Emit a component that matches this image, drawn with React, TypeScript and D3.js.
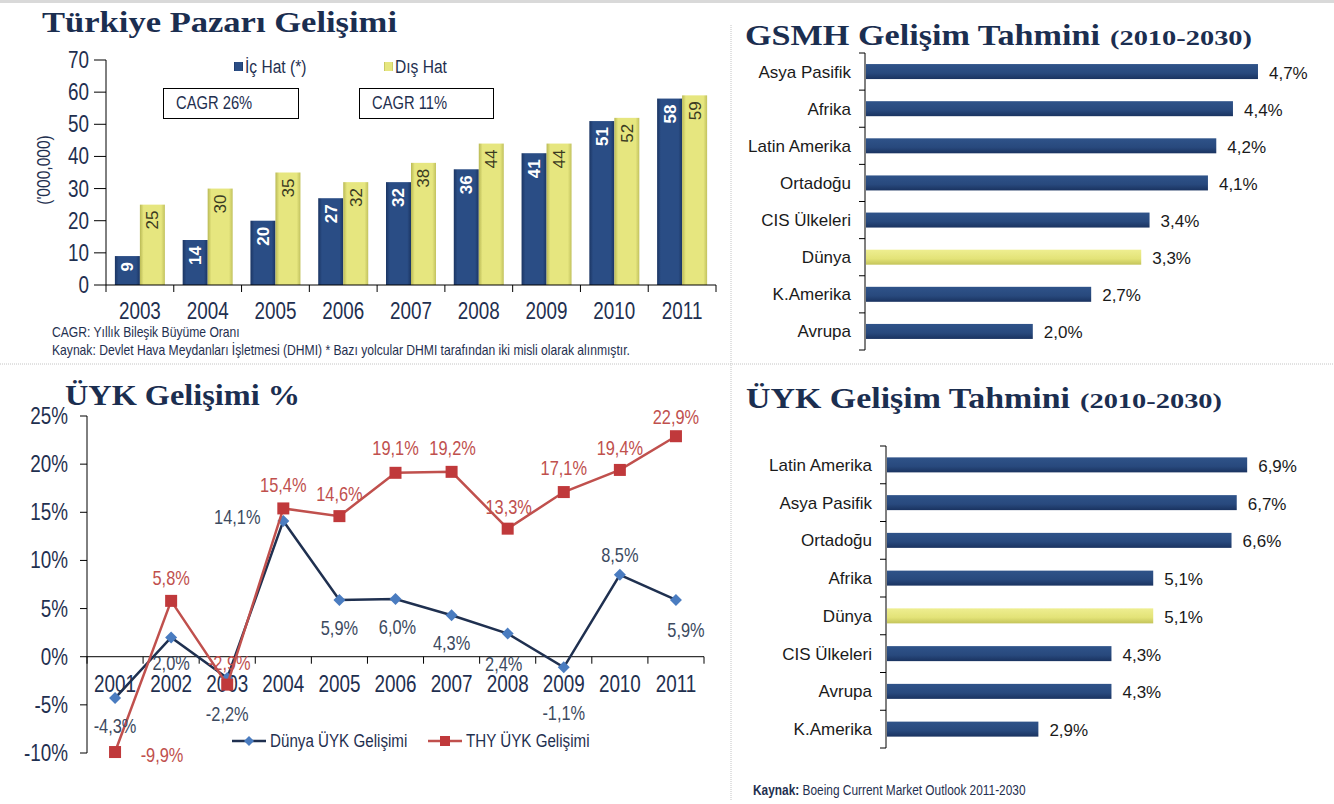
import React from "react";
import * as d3 from "d3";

// ---------- DATA ----------
const marketYears = ["2003", "2004", "2005", "2006", "2007", "2008", "2009", "2010", "2011"];
const icHat = [9, 14, 20, 27, 32, 36, 41, 51, 58];
const disHat = [25, 30, 35, 32, 38, 44, 44, 52, 59];
const marketTicks = [0, 10, 20, 30, 40, 50, 60, 70];

const gsmhRegions = ["Asya Pasifik", "Afrika", "Latin Amerika", "Ortadoğu", "CIS Ülkeleri", "Dünya", "K.Amerika", "Avrupa"];
const gsmhValues = [4.7, 4.4, 4.2, 4.1, 3.4, 3.3, 2.7, 2.0];

const uykRegions = ["Latin Amerika", "Asya Pasifik", "Ortadoğu", "Afrika", "Dünya", "CIS Ülkeleri", "Avrupa", "K.Amerika"];
const uykValues = [6.9, 6.7, 6.6, 5.1, 5.1, 4.3, 4.3, 2.9];

const lineYears = ["2001", "2002", "2003", "2004", "2005", "2006", "2007", "2008", "2009", "2010", "2011"];
const dunyaUyk = [-4.3, 2.0, -2.2, 14.1, 5.9, 6.0, 4.3, 2.4, -1.1, 8.5, 5.9];
const thyUyk = [-9.9, 5.8, -2.9, 15.4, 14.6, 19.1, 19.2, 13.3, 17.1, 19.4, 22.9];
const lineTicks = [-10, -5, 0, 5, 10, 15, 20, 25];

// label placement offsets (layout only)
const dunyaLabelOffset: [number, number][] = [
  [0, 28], [0, 26], [0, 36], [-46, -4], [0, 28], [2, 28], [0, 28], [-4, 30], [0, 46], [0, -20], [10, 30],
];
const thyLabelOffset: [number, number][] = [
  [47, 3], [0, -23], [2, -22], [0, -23], [0, -22], [0, -25], [1, -24], [1, -22], [0, -24], [0, -22], [0, -19],
];

// ---------- STYLE ----------
const SANS = "'Liberation Sans', Arial, sans-serif";
const SERIF = "'Liberation Serif', 'DejaVu Serif', serif";
const TITLE = "#1b2e50";
const TXT = "#1f3050";
const RED = "#c0504d";
const DUNYA_LINE = "#1f3050";
const DUNYA_MARK = "#4a7cc0";
const SX = 0.82; // narrow (condensed) text

const fmt = (v: number) => v.toFixed(1).replace(".", ",") + "%";

// condensed text: scaled horizontally about its anchor
function NText(props: any) {
  const { x, y, rot, sx = SX, children, ...rest } = props;
  const t = `translate(${x},${y})${rot ? ` rotate(${rot})` : ""} scale(${sx},1)`;
  return (
    <text transform={t} fontFamily={SANS} {...rest}>
      {children}
    </text>
  );
}

function Defs() {
  return (
    <defs>
      <linearGradient id="colNavy" x1="0" x2="1" y1="0" y2="0">
        <stop offset="0" stopColor="#1b3563" />
        <stop offset="0.15" stopColor="#2a4d85" />
        <stop offset="0.85" stopColor="#2a4d85" />
        <stop offset="1" stopColor="#1b3563" />
      </linearGradient>
      <linearGradient id="colYellow" x1="0" x2="1" y1="0" y2="0">
        <stop offset="0" stopColor="#b9b955" />
        <stop offset="0.15" stopColor="#e6e67f" />
        <stop offset="0.85" stopColor="#e6e67f" />
        <stop offset="1" stopColor="#c2c25e" />
      </linearGradient>
      <linearGradient id="barNavy" x1="0" x2="0" y1="0" y2="1">
        <stop offset="0" stopColor="#2f5389" />
        <stop offset="0.6" stopColor="#28497d" />
        <stop offset="1" stopColor="#1a3360" />
      </linearGradient>
      <linearGradient id="barYellow" x1="0" x2="0" y1="0" y2="1">
        <stop offset="0" stopColor="#eeee90" />
        <stop offset="0.6" stopColor="#e3e378" />
        <stop offset="1" stopColor="#c4c45a" />
      </linearGradient>
    </defs>
  );
}

function MarketChart() {
  const x0 = 106, x1 = 716, yTop = 60, yBot = 285;
  const x = d3.scaleBand<string>().domain(marketYears).range([x0, x1]);
  const y = d3.scaleLinear().domain([0, 70]).range([yBot, yTop]);
  const bw = 25;
  return (
    <g>
      <text x={42} y={32} fontFamily={SERIF} fontWeight="bold" fontSize={29} fill={TITLE} textLength={355} lengthAdjust="spacingAndGlyphs">
        Türkiye Pazarı Gelişimi
      </text>
      {/* y axis */}
      <line x1={x0} x2={x0} y1={yTop} y2={yBot} stroke="#000" strokeWidth={1} />
      {marketTicks.map((t) => (
        <g key={t}>
          <line x1={x0 - 12} x2={x0} y1={y(t)} y2={y(t)} stroke="#000" />
          <NText x={89} y={y(t)} dy="0.35em" textAnchor="end" fontSize={23} fill={TXT}>
            {t}
          </NText>
        </g>
      ))}
      <NText x={50} y={170} rot={-90} textAnchor="middle" fontSize={19} fill={TXT}>
        ('000,000)
      </NText>
      {/* bars */}
      {marketYears.map((yr, i) => {
        const cx = x(yr)! + x.bandwidth() / 2;
        const a = icHat[i], b = disHat[i];
        return (
          <g key={yr}>
            <rect x={cx - bw} y={y(a)} width={bw} height={yBot - y(a)} fill="url(#colNavy)" />
            <rect x={cx} y={y(b)} width={bw} height={yBot - y(b)} fill="url(#colYellow)" />
            <text transform={`translate(${cx - bw / 2},${Math.min(y(a) + 6, yBot - 22)}) rotate(-90)`} textAnchor="end" dy="0.35em" fontFamily={SANS} fontSize={17} fontWeight="bold" fill="#fff">
              {a}
            </text>
            <text transform={`translate(${cx + bw / 2},${y(b) + 6}) rotate(-90)`} textAnchor="end" dy="0.35em" fontFamily={SANS} fontSize={17} fill="#3b3b22">
              {b}
            </text>
          </g>
        );
      })}
      {/* x axis */}
      <line x1={x0} x2={x1} y1={yBot} y2={yBot} stroke="#000" />
      {marketYears.map((yr) => (
        <line key={"t" + yr} x1={x(yr)!} x2={x(yr)!} y1={yBot} y2={yBot + 7} stroke="#000" />
      ))}
      <line x1={x1} x2={x1} y1={yBot} y2={yBot + 7} stroke="#000" />
      {marketYears.map((yr) => (
        <NText key={"l" + yr} x={x(yr)! + x.bandwidth() / 2} y={319} textAnchor="middle" fontSize={23} fill={TXT}>
          {yr}
        </NText>
      ))}
      {/* legend */}
      <rect x={234} y={62} width={9} height={9} fill="url(#colNavy)" />
      <NText x={245} y={73} fontSize={19} fill={TXT}>İç Hat (*)</NText>
      <rect x={384} y={62} width={9} height={9} fill="url(#colYellow)" />
      <NText x={395} y={73} fontSize={19} fill={TXT}>Dış Hat</NText>
      {/* CAGR boxes */}
      <rect x={163.5} y={88.5} width={135} height={30} fill="#fff" stroke="#000" />
      <NText x={176} y={109} fontSize={18} fill={TXT}>CAGR 26%</NText>
      <rect x={359.5} y={88.5} width={134} height={30} fill="#fff" stroke="#000" />
      <NText x={372} y={109} fontSize={18} fill={TXT}>CAGR 11%</NText>
      {/* footnotes */}
      <NText x={52} y={337} fontSize={14.8} fill={TXT}>CAGR: Yıllık Bileşik Büyüme Oranı</NText>
      <NText x={52} y={355} fontSize={14.8} fill={TXT}>
        Kaynak:  Devlet Hava Meydanları İşletmesi (DHMI) * Bazı yolcular DHMI tarafından iki misli olarak alınmıştır.
      </NText>
    </g>
  );
}

function HBarChart(props: {
  regions: string[]; values: number[]; axisX: number; yTop: number; yBot: number; pxPerUnit: number;
  title: string; titleX: number; titleY: number; titleLen: number; subX: number; subLen: number;
}) {
  const { regions, values, axisX, yTop, yBot, pxPerUnit } = props;
  const y = d3.scaleBand<string>().domain(regions).range([yTop, yBot]);
  const x = d3.scaleLinear().domain([0, 1]).range([axisX, axisX + pxPerUnit]);
  const bh = 15;
  return (
    <g>
      <text x={props.titleX} y={props.titleY} fontFamily={SERIF} fontWeight="bold" fontSize={29} fill={TITLE} textLength={props.titleLen} lengthAdjust="spacingAndGlyphs">
        {props.title}
      </text>
      <text x={props.subX} y={props.titleY} fontFamily={SERIF} fontWeight="bold" fontSize={22} fill={TITLE} textLength={props.subLen} lengthAdjust="spacingAndGlyphs">
        (2010-2030)
      </text>
      <line x1={axisX} x2={axisX} y1={yTop} y2={yBot} stroke="#000" />
      {regions.map((r) => (
        <line key={"t" + r} x1={axisX - 6} x2={axisX} y1={y(r)!} y2={y(r)!} stroke="#000" />
      ))}
      <line x1={axisX - 6} x2={axisX} y1={yBot} y2={yBot} stroke="#000" />
      {regions.map((r, i) => {
        const cy = y(r)! + y.bandwidth() / 2;
        const isWorld = r === "Dünya";
        return (
          <g key={r}>
            <rect x={axisX + 1} y={cy - bh / 2} width={x(values[i]) - axisX} height={bh} fill={isWorld ? "url(#barYellow)" : "url(#barNavy)"} />
            <text x={axisX - 14} y={cy} dy="0.35em" textAnchor="end" fontFamily={SANS} fontSize={17} fill="#1a1a1a">
              {r}
            </text>
            <text x={x(values[i]) + 12} y={cy + 1} dy="0.35em" fontFamily={SANS} fontSize={17} fill="#1a1a1a">
              {fmt(values[i])}
            </text>
          </g>
        );
      })}
    </g>
  );
}

function LineChart() {
  const x0 = 87, x1 = 704;
  const x = d3.scaleBand<string>().domain(lineYears).range([x0, x1]);
  const y = d3.scaleLinear().domain([-10, 25]).range([753, 416]);
  const cx = (yr: string) => x(yr)! + x.bandwidth() / 2;
  const line = d3.line<number>().x((_, i) => cx(lineYears[i])).y((v) => y(v));
  const diamond = (px: number, py: number, r = 6) => `M${px},${py - r}L${px + r},${py}L${px},${py + r}L${px - r},${py}Z`;
  return (
    <g>
      <text x={65} y={405} fontFamily={SERIF} fontWeight="bold" fontSize={29} fill={TITLE} textLength={235} lengthAdjust="spacingAndGlyphs">
        ÜYK Gelişimi %
      </text>
      <line x1={x0} x2={x0} y1={y(25)} y2={y(-10)} stroke="#000" />
      {lineTicks.map((t) => (
        <g key={t}>
          <line x1={x0 - 7} x2={x0} y1={y(t)} y2={y(t)} stroke="#000" />
          <NText x={68} y={y(t)} dy="0.35em" textAnchor="end" fontSize={23} fill={TXT}>
            {t}%
          </NText>
        </g>
      ))}
      <line x1={x0} x2={x1} y1={y(0)} y2={y(0)} stroke="#000" />
      {lineYears.map((yr) => (
        <line key={"t" + yr} x1={x(yr)!} x2={x(yr)!} y1={y(0)} y2={y(0) + 7} stroke="#000" />
      ))}
      <line x1={x1} x2={x1} y1={y(0)} y2={y(0) + 7} stroke="#000" />
      {lineYears.map((yr) => (
        <NText key={"l" + yr} x={cx(yr)} y={692} textAnchor="middle" fontSize={23} fill={TXT}>
          {yr}
        </NText>
      ))}
      {/* Dünya series */}
      <path d={line(dunyaUyk)!} fill="none" stroke={DUNYA_LINE} strokeWidth={2.5} />
      {dunyaUyk.map((v, i) => (
        <path key={"dm" + i} d={diamond(cx(lineYears[i]), y(v))} fill={DUNYA_MARK} />
      ))}
      {/* THY series */}
      <path d={line(thyUyk)!} fill="none" stroke={RED} strokeWidth={2.5} />
      {thyUyk.map((v, i) => (
        <rect key={"tm" + i} x={cx(lineYears[i]) - 6} y={y(v) - 6} width={12} height={12} fill="#c0393b" />
      ))}
      {dunyaUyk.map((v, i) => (
        <NText key={"dl" + i} x={cx(lineYears[i]) + dunyaLabelOffset[i][0]} y={y(v) + dunyaLabelOffset[i][1]} dy="0.35em" textAnchor="middle" fontSize={20} fill="#3c4a60">
          {fmt(v)}
        </NText>
      ))}
      {thyUyk.map((v, i) => (
        <NText key={"tl" + i} x={cx(lineYears[i]) + thyLabelOffset[i][0]} y={y(v) + thyLabelOffset[i][1]} dy="0.35em" textAnchor="middle" fontSize={20} fill={RED}>
          {fmt(v)}
        </NText>
      ))}
      {/* legend */}
      <line x1={232} x2={266} y1={741} y2={741} stroke={DUNYA_LINE} strokeWidth={2.5} />
      <path d={diamond(249, 741, 5)} fill={DUNYA_MARK} />
      <NText x={270} y={741} dy="0.35em" fontSize={18.5} fill={TXT}>Dünya ÜYK Gelişimi</NText>
      <line x1={428} x2={462} y1={741} y2={741} stroke={RED} strokeWidth={2.5} />
      <rect x={440} y={736} width={10} height={10} fill="#c0393b" />
      <NText x={466} y={741} dy="0.35em" fontSize={18.5} fill={TXT}>THY ÜYK Gelişimi</NText>
    </g>
  );
}

export default function App() {
  return (
    <svg width={1334} height={804} style={{ position: "absolute", left: 0, top: 0, background: "#fff" }}>
      <Defs />
      <rect x={0} y={0} width={1334} height={804} fill="#fff" />
      <line x1={0} x2={1334} y1={1.5} y2={1.5} stroke="#d9d9d9" strokeWidth={3} />
      <line x1={731} x2={731} y1={25} y2={800} stroke="#c4c4c4" strokeDasharray="1,1" />
      <line x1={0} x2={1334} y1={364} y2={364} stroke="#c4c4c4" strokeDasharray="1,1" />
      <MarketChart />
      <HBarChart regions={gsmhRegions} values={gsmhValues} axisX={865} yTop={53} yBot={350} pxPerUnit={83.4}
        title="GSMH Gelişim Tahmini" titleX={745} titleY={45} titleLen={355} subX={1110} subLen={142} />
      <HBarChart regions={uykRegions} values={uykValues} axisX={886} yTop={446} yBot={748} pxPerUnit={52.2}
        title="ÜYK Gelişim Tahmini" titleX={746} titleY={408} titleLen={324} subX={1080} subLen={142} />
      <LineChart />
      <NText x={753} y={795} fontSize={14.5} fill={TXT}>
        <tspan fontWeight="bold">Kaynak:</tspan> Boeing Current Market Outlook 2011-2030
      </NText>
    </svg>
  );
}
